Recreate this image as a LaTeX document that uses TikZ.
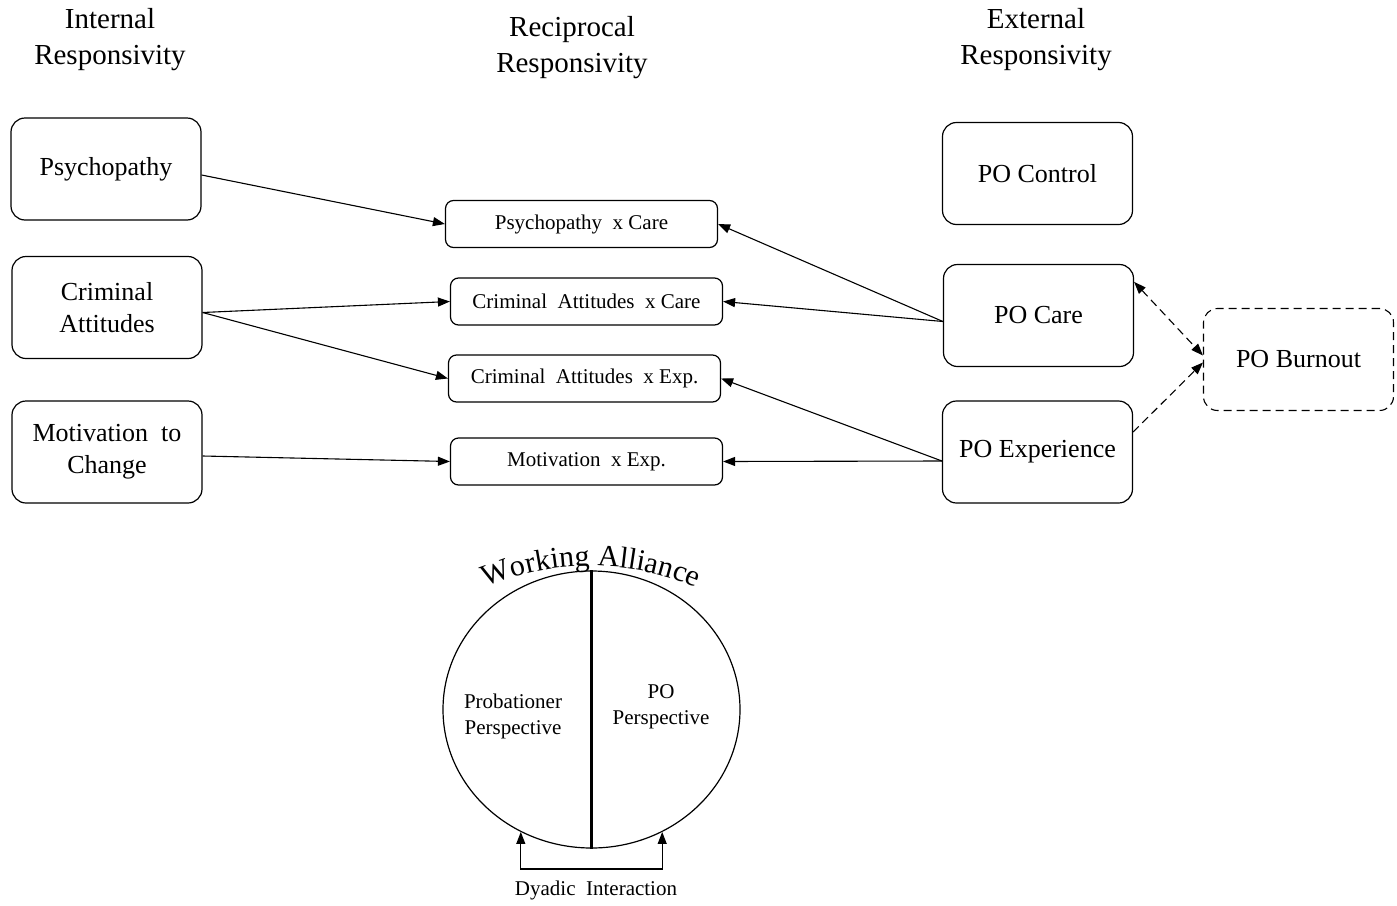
\documentclass[tikz,border=0pt]{standalone}
\usepackage{fontspec}
\setmainfont{Liberation Serif}
\usetikzlibrary{arrows.meta,shapes.geometric,decorations.text}

\begin{document}
\begin{tikzpicture}[x=1pt,y=-1pt,>={Triangle[length=12pt,width=9pt]},
  bigbox/.style={draw,rounded corners=14pt,minimum width=190pt,minimum height=102pt,align=center,line width=1.2pt,font=\fontsize{26}{32}\selectfont},
  smallbox/.style={draw,rounded corners=8pt,minimum width=272pt,minimum height=47pt,line width=1.2pt,font=\fontsize{21}{26}\selectfont},
  head/.style={align=center,font=\fontsize{29}{36}\selectfont},
  small/.style={align=center,font=\fontsize{21}{26}\selectfont},
  link/.style={->,line width=1.1pt},
  dlink/.style={line width=1.1pt,dash pattern=on 8pt off 5pt}]
\useasboundingbox (0,0) rectangle (1397,905);
% column heads
\node[head] (hint) at (110,40) {Internal\\Responsivity};
\node[head] (hrec) at (572,48) {Reciprocal\\Responsivity};
\node[head] (hext) at (1036,40) {External\\Responsivity};
% internal
\node[bigbox] (psy) at (106,169) {Psychopathy};
\node[bigbox] (crim) at (107,307.5) {Criminal\\Attitudes};
\node[bigbox] (motiv) at (107,452) {Motivation~ to\\Change};
% reciprocal
\node[smallbox] (pxc) at (581.5,224) {Psychopathy~~x Care};
\node[smallbox] (caxc) at (586.5,301.5) {Criminal~~Attitudes~~x Care};
\node[smallbox] (caxe) at (584.5,378.5) {Criminal~~Attitudes~~x Exp.};
\node[smallbox] (mxe) at (586.5,461.5) {Motivation~~x Exp.};
% external
\node[bigbox] (ctrl) at (1037.5,173.5) {PO Control};
\node[bigbox] (care) at (1038.5,315.5) {PO Care};
\node[bigbox] (exper) at (1037.5,452) {PO Experience};
\node[bigbox,dlink] (burn) at (1298.5,359.5) {PO Burnout};
\coordinate (psyout) at ([yshift=-6pt]psy.east);
\coordinate (crimout) at ([yshift=-5pt]crim.east);
\coordinate (motivout) at ([yshift=-4pt]motiv.east);
\coordinate (careout) at ([yshift=-6pt]care.west);
\coordinate (expout) at ([yshift=-9pt]exper.west);

\draw[link] (psyout) -- (pxc.west);
\draw[link] (crimout) -- (caxc.west);
\draw[link] (crimout) -- (caxe.west);
\draw[link] (motivout) -- (mxe.west);
\draw[link] (careout) -- (pxc.east);
\draw[link] (careout) -- (caxc.east);
\draw[link] (expout) -- (caxe.east);
\draw[link] (expout) -- (mxe.east);
\draw[dlink,<->] ([yshift=-18pt]care.north east) -- ([yshift=4pt]burn.west);
\draw[dlink,->] ([yshift=20pt]exper.east) -- ([yshift=-3pt]burn.west);

% working alliance
\node[ellipse,draw,line width=1.2pt,minimum width=297pt,minimum height=277pt,inner sep=0pt] (wa) at (591.5,709.5) {};
\draw[line width=2.5pt] (wa.north) -- (wa.south);
\path[decorate,decoration={text along path,text align=center,text={|\fontsize{30}{32}\selectfont|Working Alliance}}]
  (591,836) ++(242:270) arc[start angle=242,end angle=298,radius=270];
\node[small] (prob) at (513,716) {Probationer\\Perspective};
\node[small] (poper) at (661,707) {PO\\Perspective};
\draw[<->,line width=1.1pt] (wa.240) -- ++(0,37) -| (wa.300);
\node[small] (dyad) at (596,890) {Dyadic~~Interaction};
\end{tikzpicture}
\end{document}
